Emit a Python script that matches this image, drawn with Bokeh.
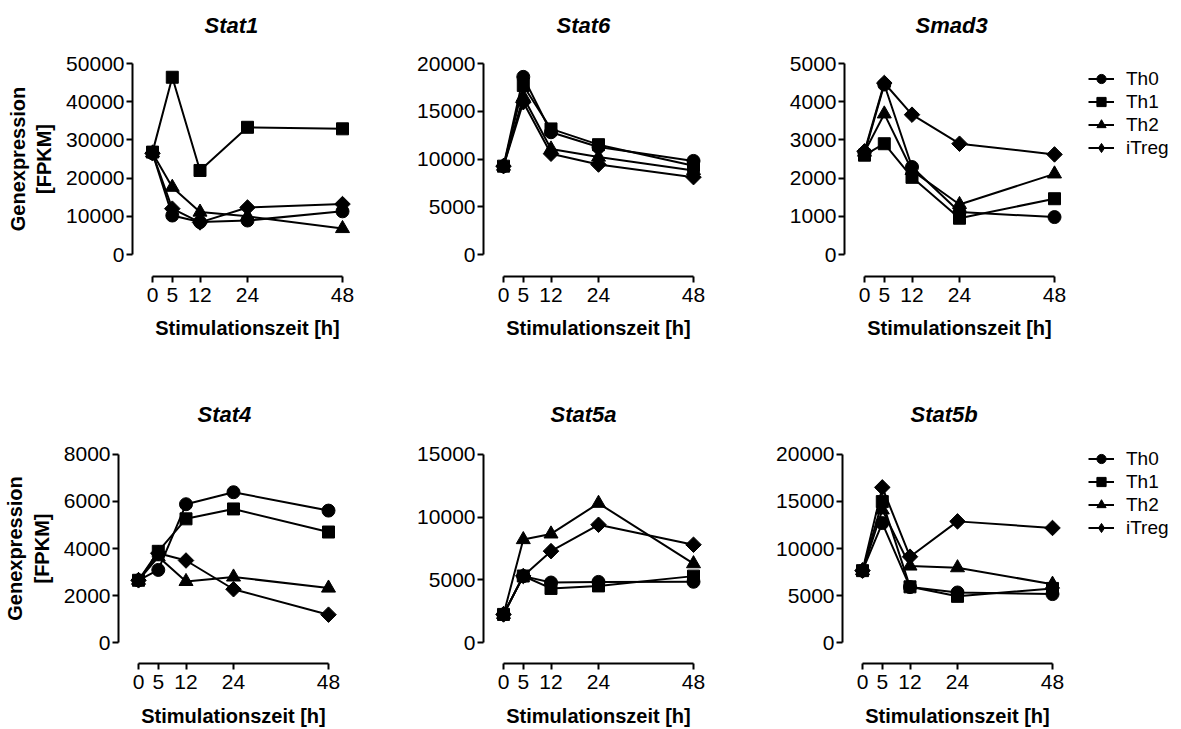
import math
from bokeh.plotting import figure
from bokeh.layouts import row, column
from bokeh.models import FixedTicker, Legend, LegendItem, Range1d
from bokeh.embed import file_html
from bokeh.resources import INLINE

# ---------------- data ----------------
hours = [0, 5, 12, 24, 48]
groups = ["Th0", "Th1", "Th2", "iTreg"]

stat1_th0 = [26500, 10200, 8500, 8900, 11300]
stat1_th1 = [26800, 46400, 22000, 33300, 32900]
stat1_th2 = [26600, 17600, 11100, 10000, 6800]
stat1_itreg = [26500, 12000, 8400, 12300, 13200]

stat6_th0 = [9250, 18600, 12800, 11250, 9800]
stat6_th1 = [9250, 17700, 13150, 11500, 9300]
stat6_th2 = [9250, 16500, 11050, 10200, 8800]
stat6_itreg = [9250, 15950, 10550, 9420, 8100]

smad3_th0 = [2650, 4450, 2290, 1110, 980]
smad3_th1 = [2600, 2900, 2020, 950, 1460]
smad3_th2 = [2680, 3680, 2200, 1310, 2110]
smad3_itreg = [2700, 4490, 3660, 2900, 2620]

stat4_th0 = [2650, 3090, 5880, 6390, 5610]
stat4_th1 = [2650, 3880, 5260, 5680, 4700]
stat4_th2 = [2650, 3650, 2600, 2790, 2320]
stat4_itreg = [2650, 3800, 3490, 2270, 1190]

stat5a_th0 = [2250, 5300, 4790, 4840, 4850]
stat5a_th1 = [2250, 5310, 4320, 4520, 5300]
stat5a_th2 = [2250, 8210, 8660, 11100, 6290]
stat5a_itreg = [2250, 5310, 7290, 9390, 7800]

stat5b_th0 = [7650, 12700, 5900, 5330, 5160]
stat5b_th1 = [7650, 14980, 5930, 4920, 5760]
stat5b_th2 = [7650, 14100, 8140, 7960, 6210]
stat5b_itreg = [7650, 16490, 9130, 12880, 12180]

y_ticks_stat1 = [0, 10000, 20000, 30000, 40000, 50000]
y_ticks_stat6 = [0, 5000, 10000, 15000, 20000]
y_ticks_smad3 = [0, 1000, 2000, 3000, 4000, 5000]
y_ticks_stat4 = [0, 2000, 4000, 6000, 8000]
y_ticks_stat5a = [0, 5000, 10000, 15000]
y_ticks_stat5b = [0, 5000, 10000, 15000, 20000]

x_label = "Stimulationszeit [h]"
y_label = "Genexpression\n[FPKM]"

# ---------------- styling ----------------
FONT = "Liberation Sans"
MARKERS = {"Th0": ("circle", 13, 0.0),
           "Th1": ("square", 12, 0.0),
           "Th2": ("triangle", 14, 0.0),
           "iTreg": ("square", 11, math.pi / 4)}
LEGEND_MARKERS = {"Th0": "circle", "Th1": "square",
                  "Th2": "triangle", "iTreg": "diamond"}

PX_PER_H = 190 / 48.0
GAP_X = 20  # px between y axis and x=0 (and mirrored right of x=48)
FRAME_W = 190 + 2 * GAP_X


def make_panel(title, series, yticks, left, top, data_h, gap, bottom,
               xl_standoff, xa_standoff, title_standoff, title_dx,
               ylabel=None):
    ymax = yticks[-1]
    frame_h = data_h + 2 * gap
    pad_y = gap * ymax / data_h
    pad_x = GAP_X / PX_PER_H
    p = figure(width=left + FRAME_W, height=top + frame_h + bottom,
               min_border_left=left, min_border_right=0,
               min_border_top=top, min_border_bottom=bottom,
               x_range=Range1d(-pad_x, 48 + pad_x),
               y_range=Range1d(-pad_y, ymax + pad_y),
               output_backend="svg", toolbar_location=None)
    p.outline_line_color = None
    p.xgrid.visible = False
    p.ygrid.visible = False
    p.background_fill_color = "white"
    p.border_fill_color = "white"

    p.title.text = title
    p.title.text_font = FONT
    p.title.text_font_style = "bold italic"
    p.title.text_font_size = "22px"
    p.title.text_color = "black"
    p.title.align = "left"
    p.title.standoff = title_standoff
    p.title.offset = title_dx

    xa = p.xaxis[0]
    xa.ticker = FixedTicker(ticks=hours)
    xa.bounds = (0, 48)
    xa.axis_label = x_label
    ya = p.yaxis[0]
    ya.ticker = FixedTicker(ticks=yticks)
    ya.bounds = (0, ymax)
    ya.formatter.use_scientific = False
    if ylabel:
        ya.axis_label = ylabel
    for ax in (xa, ya):
        ax.axis_line_color = "black"
        ax.axis_line_width = 2
        ax.major_tick_line_color = "black"
        ax.major_tick_line_width = 2
        ax.major_tick_in = 0
        ax.major_tick_out = 6
        ax.minor_tick_line_color = None
        ax.major_label_text_font = FONT
        ax.major_label_text_font_size = "21px"
        ax.major_label_text_color = "black"
        ax.axis_label_text_font = FONT
        ax.axis_label_text_font_size = "20px"
        ax.axis_label_text_font_style = "bold"
        ax.axis_label_text_color = "black"
    xa.major_label_standoff = xl_standoff
    xa.axis_label_standoff = xa_standoff
    ya.major_label_standoff = 2
    ya.axis_label_standoff = 8

    for g, vals in zip(groups, series):
        m, s, ang = MARKERS[g]
        p.line(hours, vals, line_color="black", line_width=2)
        p.scatter(hours, vals, marker=m, size=s, angle=ang,
                  fill_color="black", line_color="black")
    return p


def make_legend_panel(width, height, series, loc):
    # a narrow plot that only hosts the legend; its ranges are set so that
    # the helper renderers (same series) fall outside the visible frame
    p = figure(width=width, height=height, min_border=0,
               x_axis_location=None, y_axis_location=None,
               x_range=Range1d(-1000, -999), y_range=Range1d(-1000, -999),
               output_backend="svg", toolbar_location=None)
    p.outline_line_color = None
    p.grid.visible = False
    p.background_fill_color = "white"
    p.border_fill_color = "white"
    items = []
    for g, vals in zip(groups, series):
        ln = p.line(hours, vals, line_color="black", line_width=2)
        sc = p.scatter(hours, vals, marker=LEGEND_MARKERS[g], size=13,
                       fill_color="black", line_color="black")
        items.append(LegendItem(label=g, renderers=[ln, sc]))
    leg = Legend(items=items, location=loc)
    leg.border_line_color = None
    leg.background_fill_alpha = 0
    leg.padding = 0
    leg.margin = 0
    leg.spacing = 0
    leg.glyph_width = 26
    leg.glyph_height = 23
    leg.label_height = 23
    leg.label_standoff = 12
    leg.label_text_font = FONT
    leg.label_text_font_size = "19px"
    leg.label_text_color = "black"
    p.add_layout(leg)
    return p


# top row: y-max at 63, zero at 254, x axis at 276, row height 360
TOP = dict(top=41, data_h=191, gap=22, bottom=84,
           xl_standoff=5, xa_standoff=12, title_standoff=8)
# bottom row: y-max at 454, zero at 644, x axis at 665, row height 369
BOT = dict(top=73, data_h=190, gap=21, bottom=64,
           xl_standoff=5, xa_standoff=13, title_standoff=14)

smad3 = [smad3_th0, smad3_th1, smad3_th2, smad3_itreg]
stat5b = [stat5b_th0, stat5b_th1, stat5b_th2, stat5b_itreg]

f1 = make_panel("Stat1", [stat1_th0, stat1_th1, stat1_th2, stat1_itreg],
                y_ticks_stat1, left=132, title_dx=72, ylabel=y_label, **TOP)
f2 = make_panel("Stat6", [stat6_th0, stat6_th1, stat6_th2, stat6_itreg],
                y_ticks_stat6, left=121, title_dx=73, **TOP)
f3 = make_panel("Smad3", smad3, y_ticks_smad3, left=131, title_dx=71, **TOP)
lg1 = make_legend_panel(107, 360, smad3, (14, 117))

f4 = make_panel("Stat4", [stat4_th0, stat4_th1, stat4_th2, stat4_itreg],
                y_ticks_stat4, left=118, title_dx=79, ylabel=y_label, **BOT)
f5 = make_panel("Stat5a", [stat5a_th0, stat5a_th1, stat5a_th2, stat5a_itreg],
                y_ticks_stat5a, left=135, title_dx=67, **BOT)
f6 = make_panel("Stat5b", stat5b, y_ticks_stat5b, left=129, title_dx=68, **BOT)
lg2 = make_legend_panel(109, 369, stat5b, (16, 124))

layout = column(row(f1, f2, f3, lg1), row(f4, f5, f6, lg2))

with open("out.html", "w") as fh:
    fh.write(file_html(layout, INLINE))
